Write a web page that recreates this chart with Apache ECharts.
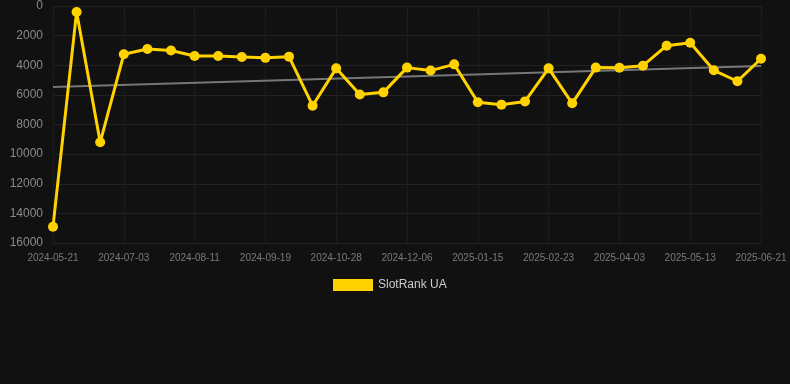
<!DOCTYPE html>
<html>
<head>
<meta charset="utf-8">
<script src="https://cdn.jsdelivr.net/npm/echarts@6/dist/echarts.min.js"></script>
<style>
html,body{margin:0;padding:0;background:#111111;}
#c{width:790px;height:384px;}
</style>
</head>
<body>
<div id="c"></div>
<script>
var categories = ['2024-05-21','2024-06-04','2024-06-18','2024-07-03','2024-07-16','2024-07-29','2024-08-11','2024-08-24','2024-09-06','2024-09-19','2024-10-02','2024-10-15','2024-10-28','2024-11-10','2024-11-23','2024-12-06','2024-12-19','2025-01-02','2025-01-15','2025-01-28','2025-02-10','2025-02-23','2025-03-08','2025-03-21','2025-04-03','2025-04-16','2025-04-30','2025-05-13','2025-05-26','2025-06-08','2025-06-21'];
var rankValues = [14900, 400, 9200, 3260, 2900, 3010, 3370, 3380, 3440, 3500, 3420, 6730, 4210, 5980, 5830, 4160, 4360, 3940, 6500, 6660, 6440, 4210, 6570, 4160, 4170, 4030, 2680, 2480, 4340, 5080, 3560];
var trendValues = [['2024-05-21', 5470], ['2025-06-21', 4050]];
var yTicks = {min: 0, max: 16000, interval: 2000};

var chart = echarts.init(document.getElementById('c'));
chart.setOption({
  backgroundColor: '#111111',
  animation: false,
  textStyle: {fontFamily: 'Liberation Sans, Arial, sans-serif'},
  grid: {left: 53, right: 29, top: 6, bottom: 141},
  legend: {
    data: ['SlotRank UA'],
    top: 274,
    left: 328,
    icon: 'rect',
    itemWidth: 40,
    itemHeight: 12,
    itemGap: 10,
    textStyle: {color: '#cccccc', fontSize: 12}
  },
  xAxis: {
    type: 'category',
    data: categories,
    boundaryGap: false,
    axisLine: {show: true, lineStyle: {color: '#222222'}},
    axisTick: {show: true, interval: 2, lineStyle: {color: '#222222'}},
    axisLabel: {interval: 2, color: '#7a7a7a', fontSize: 10, margin: 10},
    splitLine: {show: true, interval: 2, lineStyle: {color: '#1c1c1c'}}
  },
  yAxis: {
    type: 'value',
    inverse: true,
    min: yTicks.min,
    max: yTicks.max,
    interval: yTicks.interval,
    axisLine: {show: false},
    axisTick: {show: false},
    axisLabel: {color: '#8a8a8a', fontSize: 12, margin: 10, formatter: function (v) { return String(v); }},
    splitLine: {show: true, lineStyle: {color: '#222222'}}
  },
  series: [
    {
      name: 'SlotRank UA',
      type: 'line',
      data: rankValues,
      symbol: 'circle',
      symbolSize: 10,
      lineStyle: {color: '#FFD200', width: 3},
      itemStyle: {color: '#FFD200'},
      z: 3
    },
    {
      name: 'Trend',
      type: 'line',
      data: trendValues,
      symbol: 'none',
      lineStyle: {color: '#777777', width: 2},
      itemStyle: {color: '#777777'},
      z: 2
    }
  ]
});
</script>
</body>
</html>
